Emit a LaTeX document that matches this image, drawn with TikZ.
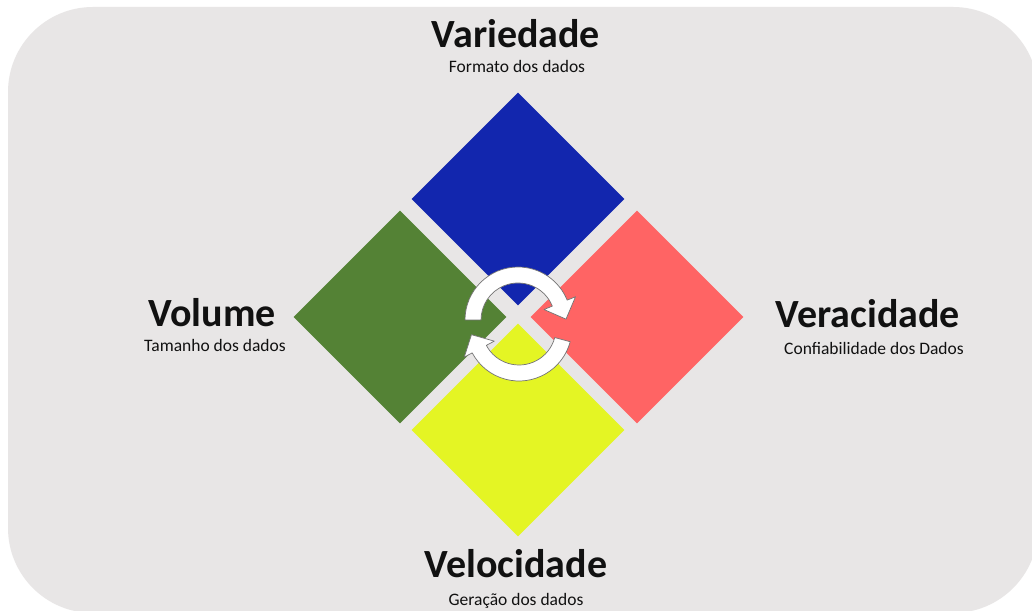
\documentclass[tikz,border=0pt]{standalone}
\usepackage{fontspec}
\setmainfont{Carlito}
\usetikzlibrary{shapes.geometric}
\definecolor{bgc}{HTML}{E8E6E6}
\definecolor{blueC}{HTML}{1226AE}
\definecolor{greenC}{HTML}{548235}
\definecolor{redC}{HTML}{FF6464}
\definecolor{yellowC}{HTML}{E4F524}
\definecolor{inkC}{HTML}{111111}
\begin{document}
\begin{tikzpicture}[x=1pt,y=1pt,
  dia/.style={diamond, aspect=1, minimum width=213pt, minimum height=213pt, inner sep=0pt, draw=none},
  ttl/.style={anchor=base, font=\fontsize{40}{43}\selectfont\bfseries, text=inkC, inner sep=0pt},
  sub/.style={anchor=base, font=\fontsize{17.5}{20}\selectfont, text=inkC, inner sep=0pt},
  cyc/.style={fill=white, draw=black!55, line width=0.7pt, line join=round}]
\useasboundingbox (0,0) rectangle (1032,610);
\fill[white] (0,0) rectangle (1032,610);
\fill[bgc, rounded corners=85pt] (8,-3) rectangle (1038,603);
% diamonds
\node[dia, fill=blueC] (var) at (518,411) {};
\node[dia, fill=greenC] (vol) at (400,293) {};
\node[dia, fill=redC] (ver) at (637,293) {};
\node[dia, fill=yellowC] (vel) at (518,180) {};
% labels
\node[ttl] (tvar) at (516,562) {Variedade};
\node[sub] (svar) at (517,537) {Formato dos dados};
\node[ttl] (tvol) at (212,283) {Volume};
\node[sub] (svol) at (215,258) {Tamanho dos dados};
\node[ttl] (tver) at (868,282) {Veracidade};
\node[sub] (sver) at (874,255) {Confiabilidade dos Dados};
\node[ttl] (tvel) at (516,33) {Velocidade};
\node[sub] (svel) at (516,5) {Geração dos dados};
% cycle arrows
\begin{scope}[shift={(518,290)}]
\draw[cyc] (180:53pt) arc[start angle=180, end angle=22, radius=53pt] -- (22:62pt) -- (1:48pt) -- (22:28pt) -- (22:37pt) arc[start angle=22, end angle=180, radius=37pt] -- cycle;
\end{scope}
\begin{scope}[shift={(519,282)}]
\draw[cyc] (-15:53pt) arc[start angle=-15, end angle=-152, radius=53pt] -- (-152:62pt) -- (-172:48pt) -- (-152:28pt) -- (-152:37pt) arc[start angle=-152, end angle=-15, radius=37pt] -- cycle;
\end{scope}
\end{tikzpicture}
\end{document}
